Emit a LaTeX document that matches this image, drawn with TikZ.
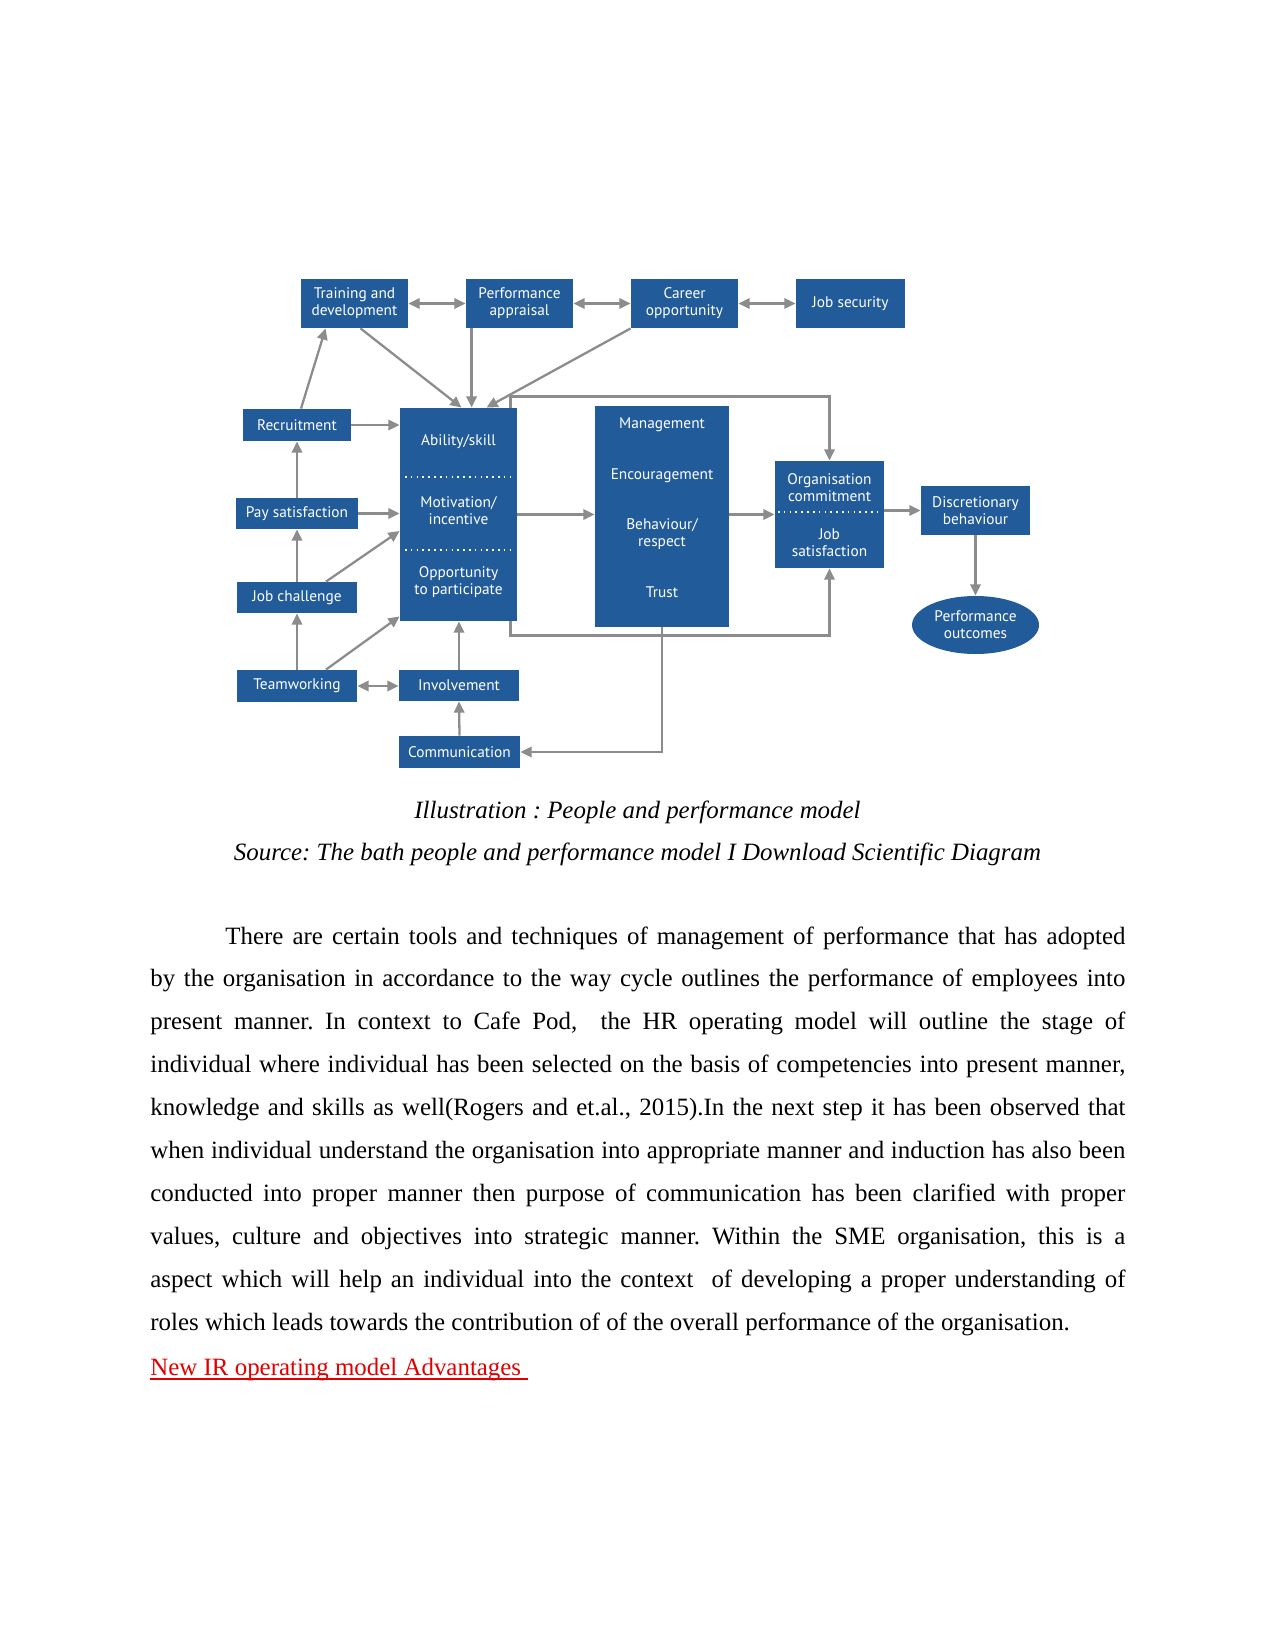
\documentclass[tikz,border=0pt]{standalone}
\usepackage{fontspec}
\setmainfont{Liberation Serif}
\newfontfamily\diagfont{PT Sans}
\usetikzlibrary{arrows.meta,calc,shapes.geometric}
\definecolor{boxblue}{RGB}{33,91,153}
\definecolor{arrowgray}{RGB}{140,140,140}
\definecolor{linkred}{RGB}{225,0,0}
\frenchspacing
\tikzset{
  box/.style={fill=boxblue, text=white, align=center, inner sep=0pt,
    font=\diagfont\fontsize{7.4}{8.2}\selectfont},
  sz/.style 2 args={minimum width=#1*0.4818pt, minimum height=#2*0.4818pt},
  lbl/.style={text=white, align=center, inner sep=0pt,
    font=\diagfont\fontsize{7.4}{8.2}\selectfont},
  divider/.style={white, dotted, line width=0.8pt},
  conn/.style={draw=arrowgray, line width=1.1pt, -{Triangle[length=5.4pt,width=5pt]}},
  biconn/.style={conn, {Triangle[length=5.4pt,width=5pt]}-{Triangle[length=5.4pt,width=5pt]}},
  body/.style={inner sep=0pt, font=\fontsize{12}{20.7}\selectfont}
}
\begin{document}
\begin{tikzpicture}[x=0.4818pt,y=-0.4818pt]
  \useasboundingbox (0,0) rectangle (1275,1650);
  % Top row
  \node[box, sz={107}{49}] (train) at (354.5,303.5) {Training and\\development};
  \node[box, sz={107}{49}] (appr) at (519.5,303.5) {Performance\\appraisal};
  \node[box, sz={107}{49}] (career) at (684.5,303.5) {Career\\opportunity};
  \node[box, sz={109}{49}] (jobsec) at (850.5,303.5) {Job security};
  % Left column
  \node[box, sz={108}{32}] (recruit) at (297,425) {Recruitment};
  \node[box, sz={122}{31}] (pay) at (297,513.5) {Pay satisfaction};
  \node[box, sz={120}{31}] (jobch) at (297,597.5) {Job challenge};
  \node[box, sz={120}{32}] (team) at (297,686) {Teamworking};
  % Ability / motivation / opportunity
  \node[box, sz={117}{213}] (abil) at (458.5,514.5) {};
  \node[lbl] (abilskill) at (458.5,442) {Ability/skill};
  \node[lbl] (abilmotiv) at (458.5,511) {Motivation/\\incentive};
  \node[lbl] (abilopp) at (458.5,582.5) {Opportunity\\to participate};
  \draw[divider] (405,477) -- (511,477);
  \draw[divider] (405,550) -- (511,550);
  \node[box, sz={120}{31}] (invol) at (459,685.5) {Involvement};
  \node[box, sz={121}{32}] (comm) at (459.5,752) {Communication};
  % Management block
  \node[box, sz={134}{221}] (mgmt) at (662,516.5) {};
  \node[lbl] (mgmtman) at (662,425) {Management};
  \node[lbl] (mgmtenc) at (662,476) {Encouragement};
  \node[lbl] (mgmtbeh) at (662,534) {Behaviour/\\respect};
  \node[lbl] (mgmttrust) at (662,592) {Trust};
  % Commitment and outcomes
  \node[box, sz={109}{107}] (org) at (829.5,514.5) {};
  \node[lbl] (orgcom) at (829.5,487.5) {Organisation\\commitment};
  \node[lbl] (orgsat) at (829.5,542.5) {Job\\satisfaction};
  \draw[divider] (778,512) -- (881,512);
  \node[box, sz={109}{49}] (disc) at (975.5,510.5) {Discretionary\\behaviour};
  \node[box, ellipse, sz={127}{58}] (outc) at (975.5,625) {Performance\\outcomes};
  % Top row links
  \draw[biconn] (train) -- (appr);
  \draw[biconn] (appr) -- (career);
  \draw[biconn] (career) -- (jobsec);
  % Into ability
  \coordinate (apprfoot) at ($(appr.south west)+(6,0)$);
  \draw[conn] ($(train.south)+(6,0)$) -- ($(abil.north)+(3,0)$);
  \draw[conn] (apprfoot) -- (apprfoot |- abil.north);
  \draw[conn] (career.south west) -- ($(abil.north)+(28,0)$);
  \draw[conn] ($(recruit.north)+(4,0)$) -- ($(train.south west)+(25,0)$);
  \draw[conn] (recruit) -- (recruit -| abil.west);
  \draw[conn] (pay) -- (pay -| abil.west);
  \draw[conn] (pay.north) -- (recruit.south);
  \draw[conn] (jobch.north) -- (pay.south);
  \draw[conn] (team.north) -- (jobch.south);
  \draw[conn] ($(jobch.north)+(29,0)$) -- ($(abil.west)+(0,16.5)$);
  \draw[conn] ($(team.north)+(29,0)$) -- ($(abil.south west)+(0,-5)$);
  \draw[biconn] (team.east) -- (team.east -| invol.west);
  \draw[conn] (invol.north) -- (invol.north |- abil.south);
  \draw[conn] (comm.north) -- (invol.south);
  % Feedback loops
  \draw[conn] ($(abil.north east)+(-7,0)$) -- ++(0,-11) -| (org.north);
  \draw[conn] ($(abil.south east)+(-7,0)$) -- ++(0,14) -| (org.south);
  \draw[conn] (abil.east) -- (abil.east -| mgmt.west);
  \draw[conn] (mgmt.east |- org.west) -- (org.west);
  \draw[conn] (org.east |- disc.west) -- (disc.west);
  \draw[conn] (disc.south) -- (outc.north);
  \draw[conn] (mgmt.south) |- (comm.east);
  % Caption
  \node[body, anchor=base, font=\fontsize{12}{14}\selectfont\itshape] (capone) at (637.5,818)
    {Illustration : People and performance model};
  \node[body, anchor=base, font=\fontsize{12}{14}\selectfont\itshape] (captwo) at (637.5,860)
    {Source: The bath people and performance model I Download Scientific Diagram};
  % Paragraph
  \node[body, anchor=base west, text width=6.5in, align=justify] (para) at (150,944)
    {\tolerance=9999\hspace*{0.5in}There are certain tools and techniques of management of performance that has adopted\linebreak
    by the organisation in accordance to the way cycle outlines the performance of employees into\linebreak
    present manner. In context to Cafe Pod,\ \ the HR operating model will outline the stage of\linebreak
    individual where individual has been selected on the basis of competencies into present manner,\linebreak
    knowledge and skills as well(Rogers and et.al., 2015).In the next step it has been observed that\linebreak
    when individual understand the organisation into appropriate manner and induction has also been\linebreak
    conducted into proper manner then purpose of communication has been clarified with proper\linebreak
    values, culture and objectives into strategic manner. Within the SME organisation, this is a\linebreak
    aspect which will help an individual into the context\ \ of developing a proper understanding of\linebreak
    roles which leads towards the contribution of of the overall performance of the organisation.};
  % Link
  \node[body, anchor=base west, text=linkred] (irlink) at (150,1375) {New IR operating model Advantages\kern3pt};
  \draw[linkred, line width=0.6pt] ($(irlink.base west)+(0,4)$) -- ($(irlink.base east)+(0,4)$);
\end{tikzpicture}
\end{document}
